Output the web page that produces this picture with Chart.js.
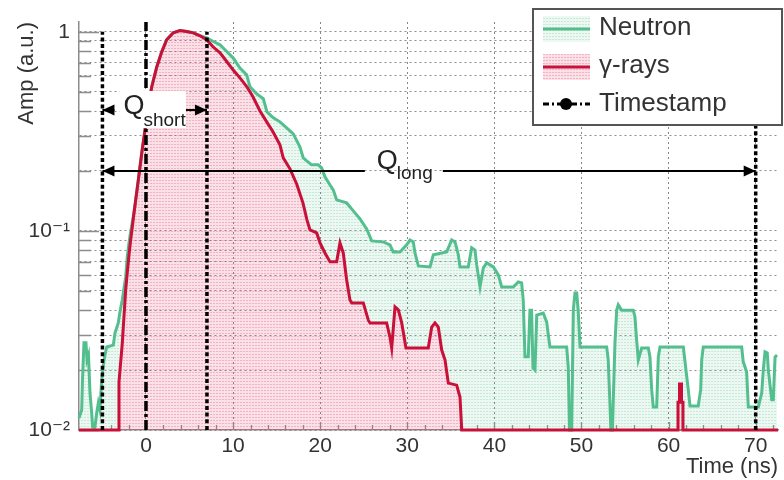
<!DOCTYPE html>
<html>
<head>
<meta charset="utf-8">
<script src="https://cdn.jsdelivr.net/npm/chart.js@4.4.0/dist/chart.umd.min.js"></script>
<style>
  html, body { margin: 0; padding: 0; background: #fff; }
  canvas { display: block; }
</style>
</head>
<body>
<canvas id="c" width="784" height="480"></canvas>
<script>
// ---- pulse shapes (time in ns, normalised amplitude) ----
const neutronTime = [-7.69, -7.38, -7.29, -7.12, -6.89, -6.77, -6.60, -6.43, -6.23, -6.12, -5.86, -5.66, -5.47, -5.28, -5.09, -4.82, -4.51, -3.75, -3.56, -3.18,
  -2.99, -2.72, -2.33, -2.15, -1.95, -1.76, -1.38, -1.18, -0.88, -0.49, -0.11, 0.26, 0.65, 1.23, 1.80, 2.38, 3.13, 3.90, 4.67, 5.43,
  6.20, 6.97, 7.73, 8.50, 9.27, 10.02, 10.79, 11.56, 11.94, 12.71, 13.47, 13.89, 14.62, 15.38, 16.15, 16.91, 17.68, 18.06, 18.45, 19.02,
  19.78, 20.17, 20.55, 21.13, 21.50, 21.89, 23.04, 23.80, 24.57, 25.34, 25.91, 27.24, 28.01, 28.39, 29.16, 29.93, 30.31, 30.69, 30.88, 31.27,
  32.61, 32.99, 34.52, 35.10, 35.48, 35.86, 36.05, 37.00, 37.39, 37.77, 37.97, 38.35, 38.73, 39.12, 39.88, 40.45, 40.84, 42.17, 42.74, 43.13,
  43.31, 43.51, 43.89, 44.08, 44.27, 44.43, 44.66, 44.86, 45.61, 46.00, 46.19, 46.38, 48.30, 48.48, 48.62, 48.87, 49.06, 49.25, 49.45, 49.63,
  49.83, 52.89, 53.07, 53.26, 53.37, 53.56, 53.65, 53.84, 54.04, 54.22, 54.61, 55.94, 56.14, 56.33, 56.52, 56.91, 57.67, 57.86, 58.06, 58.24,
  58.63, 58.82, 59.01, 61.69, 62.26, 62.46, 63.40, 63.68, 63.80, 63.98, 68.39, 68.57, 68.96, 69.15, 70.30, 70.69, 70.87, 71.07, 71.33, 71.45,
  71.84, 72.02, 72.22, 72.45];
const neutronAmp = [0.0115, 0.0126, 0.0178, 0.0274, 0.0274, 0.0225, 0.0238, 0.01535, 0.01217, 0.01035, 0.01035, 0.01217, 0.01367, 0.0126, 0.0178, 0.0225, 0.0261, 0.0267, 0.0307, 0.0345,
  0.0392, 0.045, 0.0587, 0.074, 0.0871, 0.0989, 0.1232, 0.1432, 0.181, 0.246, 0.322, 0.419, 0.528, 0.665, 0.792, 0.913, 0.989, 1.016, 1.004, 0.989,
  0.957, 0.933, 0.894, 0.860, 0.796, 0.738, 0.657, 0.608, 0.529, 0.488, 0.461, 0.396, 0.370, 0.353, 0.329, 0.307, 0.264, 0.2327, 0.2248, 0.2147,
  0.2147, 0.2073, 0.1868, 0.170, 0.1607, 0.1432, 0.1382, 0.126, 0.1149, 0.1023, 0.0891, 0.0881, 0.0851, 0.0784, 0.0784, 0.0851, 0.0901, 0.0881, 0.0775, 0.0667,
  0.0659, 0.0758, 0.0784, 0.0901, 0.0881, 0.0758, 0.0659, 0.0659, 0.0822, 0.0801, 0.0675, 0.0523, 0.0652, 0.0691, 0.0659, 0.0601, 0.0523, 0.0523, 0.0554, 0.0548,
  0.045, 0.0233, 0.0233, 0.040, 0.040, 0.0205, 0.020, 0.0378, 0.0387, 0.0349, 0.030, 0.0261, 0.0261, 0.0207, 0.01, 0.01, 0.040, 0.0488, 0.0488, 0.0392,
  0.0261, 0.0261, 0.0225, 0.01367, 0.01, 0.01, 0.0142, 0.0273, 0.040, 0.0425, 0.040, 0.040, 0.037, 0.0283, 0.0225, 0.0258, 0.0258, 0.0233, 0.0159, 0.01305,
  0.01305, 0.0233, 0.0261, 0.0261, 0.0159, 0.0132, 0.0132, 0.0159, 0.0225, 0.0261, 0.0261, 0.022, 0.0196, 0.01305, 0.01305, 0.01535, 0.020, 0.0247, 0.0244, 0.020,
  0.0142, 0.0142, 0.0233, 0.0238];

const gammaTime = [-7.69, -3.10, -3.10, -2.72, -2.53, -2.33, -2.15, -1.95, -1.76, -1.57, -1.38, -1.18, -0.88, -0.49, -0.11, 0.26, 0.65, 1.23, 1.80, 2.38,
  3.13, 3.90, 4.67, 5.43, 6.20, 6.97, 7.69, 8.50, 9.27, 9.99, 10.79, 11.56, 12.28, 13.09, 13.86, 14.58, 15.38, 15.76, 16.53, 17.30,
  18.03, 18.48, 18.83, 19.60, 19.98, 20.55, 21.13, 21.89, 22.27, 22.65, 23.04, 23.42, 23.62, 24.95, 25.52, 25.72, 27.63, 28.01, 28.21, 28.59,
  28.97, 29.36, 29.85, 32.41, 32.80, 33.18, 33.56, 33.95, 34.33, 34.71, 35.67, 36.05, 36.25, 61.08, 61.08, 61.25, 61.25, 61.48, 61.48, 61.65,
  61.65, 72.56];
const gammaAmp = [0.01, 0.01, 0.0174, 0.0273, 0.037, 0.0505, 0.0614, 0.0756, 0.0899, 0.1046, 0.1227, 0.143, 0.180, 0.245, 0.321, 0.418, 0.527, 0.664, 0.791, 0.912,
  0.988, 1.015, 1.003, 0.988, 0.955, 0.912, 0.841, 0.784, 0.709, 0.644, 0.587, 0.531, 0.472, 0.40, 0.353, 0.3145, 0.2705, 0.2327, 0.205, 0.172,
  0.138, 0.1136, 0.1012, 0.0977, 0.0871, 0.0775, 0.0699, 0.0699, 0.087, 0.0775, 0.0567, 0.045, 0.0435, 0.0435, 0.0357, 0.0345, 0.0345, 0.0293, 0.0258, 0.0415,
  0.0401, 0.0345, 0.0258, 0.0258, 0.0329, 0.0345, 0.0329, 0.0252, 0.0225, 0.0172, 0.0168, 0.01465, 0.01, 0.01, 0.0138, 0.0138, 0.017, 0.017, 0.0138, 0.0138,
  0.01, 0.01];

// integration gate edges and trigger timestamp (ns)
const gateStart = -5;
const timestamp = 0;
const shortGateEnd = 7;
const longGateEnd = 70;

// axis ticks
const xTickValues = [-6, -4, -2, 0, 2, 4, 6, 8, 10, 12, 14, 16, 18, 20, 22, 24, 26, 28, 30, 32, 34, 36, 38, 40,
  42, 44, 46, 48, 50, 52, 54, 56, 58, 60, 62, 64, 66, 68, 70, 72];
const xLabelValues = [0, 10, 20, 30, 40, 50, 60, 70];
const yTickValues = [0.01, 0.02, 0.03, 0.04, 0.05, 0.06, 0.07, 0.08, 0.09, 0.1, 0.2, 0.3, 0.4, 0.5, 0.6, 0.7, 0.8, 0.9, 1];
const yLabelValues = [0.01, 0.1, 1];
const yLabels = ['10\u207B\u00B2', '10\u207B\u00B9', '1'];

// ---- styling ----
const FONT = '"Liberation Sans", Arial, "DejaVu Sans", sans-serif';
const TEXT = '#333333';
const GREEN = '#54bf8e';
const RED = '#c81038';
const AXIS = '#8c8c8c';

const canvas = document.getElementById('c');
const ctx0 = canvas.getContext('2d');

function dotPattern(base, dots) {
  const tile = document.createElement('canvas');
  tile.width = 3; tile.height = 3;
  const g = tile.getContext('2d');
  g.fillStyle = base; g.fillRect(0, 0, 3, 3);
  g.fillStyle = dots; g.fillRect(0, 0, 2, 1);
  return ctx0.createPattern(tile, 'repeat');
}
const greenFill = dotPattern('rgba(84,191,142,0.10)', 'rgba(84,191,142,0.26)');
const redFill = dotPattern('rgba(225,70,110,0.16)', 'rgba(225,70,110,0.30)');

const toPoints = (xs, ys) => xs.map((x, i) => ({x: x, y: ys[i]}));
const near = (a, b) => Math.abs(a - b) < 1e-9 * Math.max(1, Math.abs(b));

function gateLine(t, top, dash) {
  return {
    label: 'gate', data: [{x: t, y: 0.01}, {x: t, y: top}],
    borderColor: '#000', borderWidth: 3.5, borderDash: dash,
    pointRadius: 0, fill: false, order: 0, clip: false
  };
}

// inward tick marks on both axes
const inwardTicks = {
  id: 'inwardTicks',
  beforeDatasetsDraw(chart) {
    const {ctx, chartArea: a, scales: {x, y}} = chart;
    ctx.save();
    ctx.strokeStyle = AXIS;
    ctx.lineWidth = 1.3;
    ctx.beginPath();
    x.ticks.forEach(t => {
      const px = Math.round(x.getPixelForValue(t.value)) + 0.5;
      const len = xLabelValues.includes(t.value) ? 8 : 5;
      ctx.moveTo(px, a.bottom); ctx.lineTo(px, a.bottom - len);
    });
    y.ticks.forEach(t => {
      const py = Math.round(y.getPixelForValue(t.value)) + 0.5;
      const len = yLabelValues.some(v => near(t.value, v)) ? 20 : 12;
      ctx.moveTo(a.left, py); ctx.lineTo(a.left + len, py);
    });
    ctx.stroke();
    ctx.restore();
  }
};

function head(ctx, x, y, dir) {
  ctx.beginPath();
  ctx.moveTo(x, y);
  ctx.lineTo(x - dir * 12, y - 5.5);
  ctx.lineTo(x - dir * 12, y + 5.5);
  ctx.closePath();
  ctx.fill();
}

// Q_short / Q_long gate arrows
const gateArrows = {
  id: 'gateArrows',
  afterDatasetsDraw(chart) {
    const {ctx, scales: {x, y}} = chart;
    const xa = x.getPixelForValue(gateStart);
    const xb = x.getPixelForValue(shortGateEnd);
    const xc = x.getPixelForValue(longGateEnd);
    const ys = Math.round(y.getPixelForValue(0.405));
    const yl = Math.round(y.getPixelForValue(0.2));
    ctx.save();
    ctx.fillStyle = '#000';
    ctx.strokeStyle = '#000';
    ctx.lineWidth = 2;

    // short gate
    ctx.beginPath();
    ctx.moveTo(xa, ys); ctx.lineTo(xa + 12, ys);
    ctx.moveTo(xb - 21, ys); ctx.lineTo(xb, ys);
    ctx.stroke();
    head(ctx, xa, ys, -1);
    head(ctx, xb, ys, 1);
    ctx.fillStyle = '#fff';
    ctx.fillRect(xa + 17, ys - 19, xb - 21 - (xa + 17), 37);
    ctx.fillStyle = '#222';
    ctx.textBaseline = 'alphabetic';
    ctx.textAlign = 'left';
    ctx.font = '27px ' + FONT;
    ctx.fillText('Q', xa + 21, ys + 4);
    ctx.font = '19px ' + FONT;
    ctx.fillText('short', xa + 41, ys + 16);

    // long gate
    const xm = x.getPixelForValue(29.6);
    ctx.fillStyle = '#000';
    ctx.beginPath();
    ctx.moveTo(xa, yl); ctx.lineTo(xm - 39, yl);
    ctx.moveTo(xm + 39, yl); ctx.lineTo(xc, yl);
    ctx.stroke();
    head(ctx, xa, yl, -1);
    head(ctx, xc, yl, 1);
    ctx.fillStyle = '#222';
    ctx.font = '27px ' + FONT;
    ctx.fillText('Q', xm - 27, yl - 2);
    ctx.font = '19px ' + FONT;
    ctx.fillText('long', xm - 7, yl + 8);
    ctx.restore();
  }
};

// boxed legend in the top-right corner
const boxLegend = {
  id: 'boxLegend',
  afterDraw(chart) {
    const ctx = chart.ctx;
    ctx.save();
    const bx = 533, by = 9, bw = 249, bh = 116;
    ctx.fillStyle = '#fff';
    ctx.fillRect(bx, by, bw, bh);
    ctx.strokeStyle = '#555';
    ctx.lineWidth = 2;
    ctx.strokeRect(bx, by, bw, bh);

    const sx = 543, sw = 47, tx = 599;
    const items = [
      {text: 'Neutron', y: 29, color: GREEN, fill: greenFill},
      {text: '\u03B3-rays', y: 67, color: RED, fill: redFill},
    ];
    items.forEach(it => {
      ctx.fillStyle = it.fill;
      ctx.fillRect(sx, it.y - 13, sw, 26);
      ctx.strokeStyle = it.color;
      ctx.lineWidth = 3;
      ctx.setLineDash([]);
      ctx.beginPath(); ctx.moveTo(sx, it.y); ctx.lineTo(sx + sw, it.y); ctx.stroke();
    });
    // timestamp swatch
    const ty = 104;
    ctx.strokeStyle = '#000';
    ctx.lineWidth = 3;
    ctx.setLineDash([6, 3, 2, 3]);
    ctx.beginPath(); ctx.moveTo(sx, ty); ctx.lineTo(sx + sw, ty); ctx.stroke();
    ctx.setLineDash([]);
    ctx.fillStyle = '#000';
    ctx.beginPath(); ctx.arc(sx + 23, ty, 6, 0, Math.PI * 2); ctx.fill();

    ctx.fillStyle = TEXT;
    ctx.font = '26px ' + FONT;
    ctx.textBaseline = 'middle';
    ctx.textAlign = 'left';
    ctx.fillText('Neutron', tx, 28);
    ctx.fillText('\u03B3-rays', tx, 66);
    ctx.fillText('Timestamp', tx, 104);
    ctx.restore();
  }
};

new Chart(canvas, {
  type: 'line',
  data: {
    datasets: [
      {
        label: 'Neutron', data: toPoints(neutronTime, neutronAmp),
        borderColor: GREEN, borderWidth: 3, pointRadius: 0,
        fill: {target: 1, above: greenFill, below: 'rgba(0,0,0,0)'},
        order: 2, clip: 4
      },
      {
        label: '\u03B3-rays', data: toPoints(gammaTime, gammaAmp),
        borderColor: RED, borderWidth: 3, pointRadius: 0,
        fill: 'start', backgroundColor: redFill,
        order: 1, clip: 4
      },
      gateLine(gateStart, 1.0, [4, 2.7]),
      gateLine(timestamp, 1.12, [10, 3, 3, 3]),
      gateLine(shortGateEnd, 1.0, [4, 2.7]),
      gateLine(longGateEnd, 1.0, [4, 2.7])
    ]
  },
  options: {
    responsive: false,
    animation: false,
    devicePixelRatio: 1,
    layout: {padding: {top: 22, right: 6, left: 0, bottom: 0}},
    elements: {line: {tension: 0, borderJoinStyle: 'miter'}, point: {radius: 0}},
    plugins: {legend: {display: false}, tooltip: {enabled: false}},
    scales: {
      x: {
        type: 'linear', min: -7.69, max: 72.56,
        afterFit(s) { s.height = 50; },
        afterBuildTicks(s) { s.ticks = xTickValues.map(v => ({value: v})); },
        ticks: {
          autoSkip: false, maxRotation: 0, padding: 4, color: TEXT,
          font: {family: FONT, size: 21},
          callback: v => (xLabelValues.includes(v) ? String(v) : '')
        },
        grid: {
          drawTicks: false, lineWidth: 1,
          color: c => (c.tick && xLabelValues.includes(c.tick.value)) ? 'rgba(95,95,95,0.75)' : 'rgba(0,0,0,0)'
        },
        border: {display: true, color: AXIS, width: 1.5, dash: [2, 3]},
        title: {
          display: true, text: 'Time (ns)', align: 'end', color: TEXT,
          font: {family: FONT, size: 22}, padding: {top: 0, bottom: 0}
        }
      },
      y: {
        type: 'logarithmic', min: 0.01, max: 1.12,
        afterFit(s) { s.width = 79; },
        afterBuildTicks(s) { s.ticks = yTickValues.map(v => ({value: v})); },
        ticks: {
          autoSkip: false, padding: 9, color: TEXT,
          font: {family: FONT, size: 21},
          callback: v => {
            const i = yLabelValues.findIndex(l => near(v, l));
            return i >= 0 ? yLabels[i] : '';
          }
        },
        grid: {drawTicks: false, lineWidth: 1, color: 'rgba(95,95,95,0.7)'},
        border: {display: true, color: AXIS, width: 1.5, dash: [2, 3]},
        title: {
          display: true, text: 'Amp (a.u.)', align: 'end', color: TEXT,
          font: {family: FONT, size: 22}, padding: {top: 14, bottom: 0}
        }
      }
    }
  },
  plugins: [inwardTicks, gateArrows, boxLegend]
});
</script>
</body>
</html>
